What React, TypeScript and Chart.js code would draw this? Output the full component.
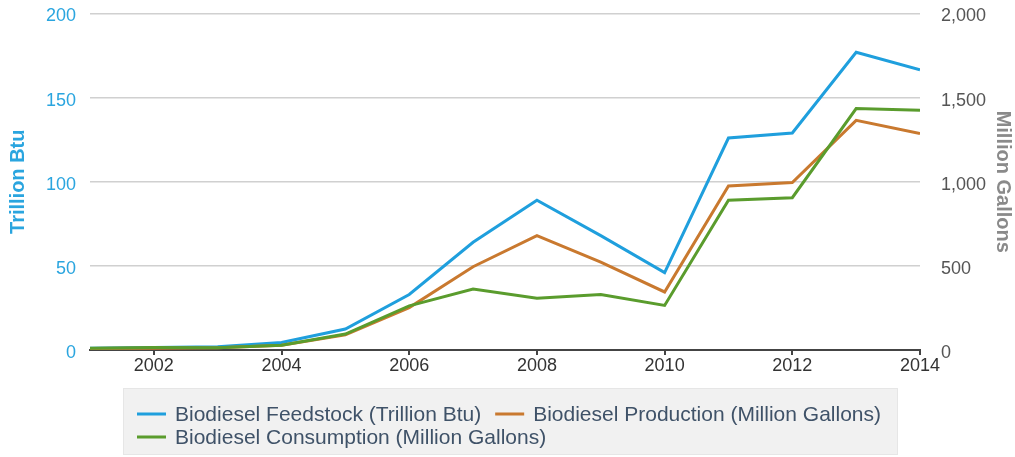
import React, { useEffect, useRef } from 'react';
import { Chart, registerables } from 'chart.js';

Chart.register(...registerables);

// ---- data ----
const years = [2001, 2002, 2003, 2004, 2005, 2006, 2007, 2008, 2009, 2010, 2011, 2012, 2013, 2014];
const xTickYears = [2002, 2004, 2006, 2008, 2010, 2012, 2014];
const feedstockBtu = [1, 1.5, 2, 4.5, 12.5, 33, 64, 89, 68, 46, 126, 129, 177, 166.5];
const productionGal = [9, 10, 14, 28, 91, 252, 495, 680, 522, 345, 975, 995, 1365, 1287];
const consumptionGal = [10, 15, 14, 28, 95, 262, 362, 308, 330, 265, 890, 905, 1435, 1425];
const leftTicks = [0, 50, 100, 150, 200];
const rightTicks = [0, 500, 1000, 1500, 2000];
const seriesLabels = [
  'Biodiesel Feedstock (Trillion Btu)',
  'Biodiesel Production (Million Gallons)',
  'Biodiesel Consumption (Million Gallons)',
];
const seriesColors = ['#1f9fdd', '#c9792f', '#5a9c2d'];

const FONT = '"Liberation Sans", Arial, Helvetica, sans-serif';

const boxLegend = {
  id: 'boxLegend',
  afterDraw(chart: any) {
    const ctx = chart.ctx as CanvasRenderingContext2D;
    const box = { l: 115, t: 380, r: 890, b: 447 };
    ctx.save();
    ctx.fillStyle = '#f1f1f1';
    ctx.fillRect(box.l, box.t, box.r - box.l, box.b - box.t);
    ctx.strokeStyle = '#e6e6e6';
    ctx.lineWidth = 1;
    ctx.strokeRect(box.l + 0.5, box.t + 0.5, box.r - box.l - 1, box.b - box.t - 1);
    ctx.font = `21px ${FONT}`;
    ctx.textBaseline = 'middle';
    ctx.textAlign = 'left';
    const startX = 129;
    const swatch = 29;
    const gapText = 9;
    const gapItem = 14;
    const rowH = 23;
    let x = startX;
    let y = 406;
    chart.data.datasets.forEach((ds: any, i: number) => {
      const tw = ctx.measureText(ds.label).width;
      const w = swatch + gapText + tw;
      if (i > 0 && x + w > box.r - 3) {
        x = startX;
        y += rowH;
      }
      ctx.fillStyle = ds.borderColor;
      ctx.fillRect(x, y - 1.5, swatch, 3);
      ctx.fillStyle = '#3f5268';
      ctx.fillText(ds.label, x + swatch + gapText, y + 1);
      x += w + gapItem;
    });
    ctx.restore();
  },
};

export default function App() {
  const ref = useRef<HTMLCanvasElement | null>(null);

  useEffect(() => {
    if (!ref.current) return;
    const toPts = (vals: number[]) => years.map((yr, i) => ({ x: yr, y: vals[i] }));
    const chart = new Chart(ref.current, {
      type: 'line',
      data: {
        datasets: [
          {
            label: seriesLabels[0],
            data: toPts(feedstockBtu),
            borderColor: seriesColors[0],
            backgroundColor: seriesColors[0],
            yAxisID: 'yL',
            order: 2,
          },
          {
            label: seriesLabels[1],
            data: toPts(productionGal),
            borderColor: seriesColors[1],
            backgroundColor: seriesColors[1],
            yAxisID: 'yR',
            order: 1,
          },
          {
            label: seriesLabels[2],
            data: toPts(consumptionGal),
            borderColor: seriesColors[2],
            backgroundColor: seriesColors[2],
            yAxisID: 'yR',
            order: 0,
          },
        ],
      },
      options: {
        animation: false,
        responsive: false,
        maintainAspectRatio: false,
        layout: { padding: { top: 5.5, left: 0, right: 0, bottom: 0 } },
        elements: {
          point: { radius: 0, hoverRadius: 0 },
          line: { tension: 0, borderWidth: 3, fill: false },
        },
        plugins: {
          legend: { display: false },
          tooltip: { enabled: false },
        },
        scales: {
          x: {
            type: 'linear',
            min: years[0],
            max: years[years.length - 1],
            afterBuildTicks: (s: any) => {
              s.ticks = xTickYears.map((v) => ({ value: v }));
            },
            afterFit: (s: any) => {
              s.height = 107;
              s.paddingLeft = 0;
              s.paddingRight = 0;
            },
            ticks: {
              callback: (v: any) => String(v),
              color: '#333',
              font: { family: FONT, size: 18 },
              padding: 0,
              maxRotation: 0,
              autoSkip: false,
            },
            grid: {
              drawOnChartArea: false,
              drawTicks: true,
              tickLength: 5,
              color: '#444',
              lineWidth: 2,
            },
            border: { display: true, color: '#444', width: 2 },
          },
          yL: {
            type: 'linear',
            position: 'left',
            min: 0,
            max: 200,
            afterBuildTicks: (s: any) => {
              s.ticks = leftTicks.map((v) => ({ value: v }));
            },
            afterFit: (s: any) => {
              s.width = 82;
              s.paddingTop = 0;
              s.paddingBottom = 0;
            },
            ticks: {
              color: '#2aa5df',
              font: { family: FONT, size: 18 },
              padding: 14,
              labelOffset: 3,
            },
            grid: { color: '#d0d0d0', lineWidth: 1.5, drawTicks: false },
            border: { display: false },
            title: {
              display: true,
              text: 'Trillion Btu',
              color: '#2aa5df',
              font: { family: FONT, size: 20, weight: 'bold', lineHeight: 1 },
              padding: 0,
            },
          },
          yR: {
            type: 'linear',
            position: 'right',
            min: 0,
            max: 2000,
            afterBuildTicks: (s: any) => {
              s.ticks = rightTicks.map((v) => ({ value: v }));
            },
            afterFit: (s: any) => {
              s.width = 95;
              s.paddingTop = 0;
              s.paddingBottom = 0;
            },
            ticks: {
              color: '#555',
              font: { family: FONT, size: 18 },
              padding: 13,
              labelOffset: 3,
              callback: (v: any) => Number(v).toLocaleString('en-US'),
            },
            grid: { display: false },
            border: { display: false },
            title: {
              display: true,
              text: 'Million Gallons',
              color: '#8a8a8a',
              font: { family: FONT, size: 20, weight: 'bold', lineHeight: 1.2 },
              padding: 0,
            },
          },
        },
      },
      plugins: [boxLegend],
    } as any);
    return () => chart.destroy();
  }, []);

  return (
    <div style={{ position: 'fixed', left: 8, top: 8, width: 1007, height: 449 }}>
      <canvas ref={ref} width={1007} height={449} style={{ display: 'block', width: 1007, height: 449 }} />
    </div>
  );
}
